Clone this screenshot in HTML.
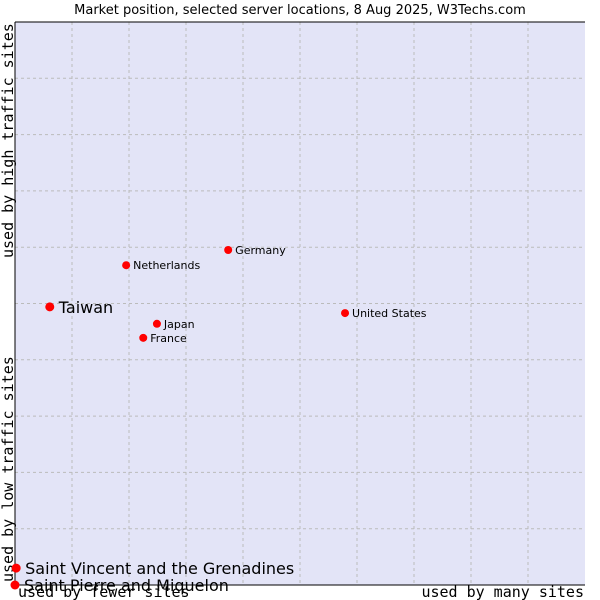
<!DOCTYPE html>
<html><head><meta charset="utf-8"><style>
body{margin:0;background:#fff;}
svg{display:block;font-family:"DejaVu Sans","Liberation Sans",sans-serif;}
</style></head><body>
<svg id="chart" width="600" height="600" viewBox="0 0 600 600">
<text x="300" y="14" text-anchor="middle" font-size="13" fill="#000">Market position, selected server locations, 8 Aug 2025, W3Techs.com</text>
<rect x="15" y="22" width="570" height="563" fill="#e3e4f7"/>
<g id="grid"></g>
<line x1="15" y1="22" x2="15" y2="585" stroke="#000" stroke-width="1"/>
<line x1="15" y1="585" x2="585" y2="585" stroke="#000" stroke-width="1"/>
<line x1="15" y1="22" x2="585" y2="22" stroke="#000" stroke-width="1"/>
<text transform="translate(13,258) rotate(-90)" font-family="DejaVu Sans Mono,Liberation Mono,monospace" font-size="15" fill="#000">used by high traffic sites</text>
<text transform="translate(13,582) rotate(-90)" font-family="DejaVu Sans Mono,Liberation Mono,monospace" font-size="15" fill="#000">used by low traffic sites</text>
<text x="18" y="597" font-family="DejaVu Sans Mono,Liberation Mono,monospace" font-size="15" fill="#000">used by fewer sites</text>
<text x="584" y="597" text-anchor="end" font-family="DejaVu Sans Mono,Liberation Mono,monospace" font-size="15" fill="#000">used by many sites</text>
<g id="points"></g>
</svg>
<script>
const countries = ["Taiwan","Netherlands","Germany","Japan","France","United States","Saint Vincent and the Grenadines","Saint Pierre and Miquelon"];
const xValues = [6.1,19.5,37.4,24.9,22.5,57.9,0.2,0.0];
const yValues = [49.4,56.8,59.5,46.4,43.9,48.3,3.0,0.0];
const highlighted = [true,false,false,false,false,false,true,true];
const gridTicks = [1,2,3,4,5,6,7,8,9];
const NS="http://www.w3.org/2000/svg";
const L=15,R=585,T=22,B=585;
function xs(v){return L+(R-L)*v/100;}
function ys(v){return B-(B-T)*v/100;}
const grid=document.getElementById('grid');
gridTicks.forEach(t=>{
  const v=document.createElementNS(NS,'line');
  
  
  v.setAttribute('x1',xs(t*10));v.setAttribute('x2',xs(t*10));v.setAttribute('y1',T);v.setAttribute('y2',B);
  v.setAttribute('stroke','#bbb');v.setAttribute('stroke-dasharray','3,3');
  grid.appendChild(v);
  const h=document.createElementNS(NS,'line');
  
  
  h.setAttribute('x1',L);h.setAttribute('x2',R);h.setAttribute('y1',ys(t*10));h.setAttribute('y2',ys(t*10));
  h.setAttribute('stroke','#bbb');h.setAttribute('stroke-dasharray','3,3');
  grid.appendChild(h);
});
const pts=document.getElementById('points');
countries.forEach((c,i)=>{
  const x=xs(xValues[i]),y=ys(yValues[i]);
  const g=document.createElementNS(NS,'g');
  
  
  const d=document.createElementNS(NS,'circle');
  d.setAttribute('cx',x);d.setAttribute('cy',y);
  d.setAttribute('r',highlighted[i]?4.5:4);
  d.setAttribute('fill','#f00');
  g.appendChild(d);
  const t=document.createElementNS(NS,'text');
  
  
  t.setAttribute('x',x+(highlighted[i]?9:7));
  t.setAttribute('y',y+(highlighted[i]?6:4));
  t.setAttribute('font-size',highlighted[i]?16:11);
  t.setAttribute('fill','#000');
  t.textContent=c;
  g.appendChild(t);
  pts.appendChild(g);
});
</script>
</body></html>
